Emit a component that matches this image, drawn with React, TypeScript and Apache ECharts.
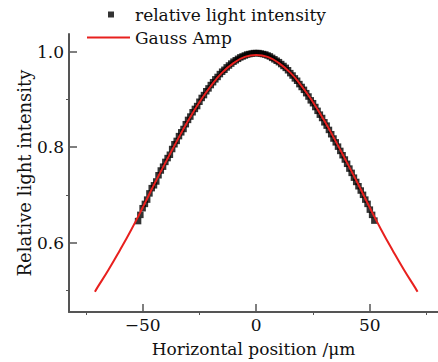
import React, { useEffect, useRef } from "react";
import * as echarts from "echarts";

const dataX: number[] = [
  -52, -51, -50, -49, -48, -47, -46, -45, -44, -43, -42, -41, -40, -39, -38, -37, -36, -35, -34, -33, -32, -31, -30, -29, -28, -27,
  -26, -25, -24, -23, -22, -21, -20, -19, -18, -17, -16, -15, -14, -13, -12, -11, -10, -9, -8, -7, -6, -5, -4, -3, -2, -1,
  0, 1, 2, 3, 4, 5, 6, 7, 8, 9, 10, 11, 12, 13, 14, 15, 16, 17, 18, 19, 20, 21, 22, 23, 24, 25, 26,
  27, 28, 29, 30, 31, 32, 33, 34, 35, 36, 37, 38, 39, 40, 41, 42, 43, 44, 45, 46, 47, 48, 49, 50, 51, 52,
];
const dataY: number[] = [
  0.645, 0.658, 0.672, 0.681, 0.69, 0.703, 0.714, 0.72, 0.728, 0.741, 0.751, 0.759, 0.769, 0.777, 0.784, 0.796, 0.806, 0.813,
  0.823, 0.831, 0.838, 0.848, 0.857, 0.864, 0.873, 0.88, 0.886, 0.895, 0.903, 0.909, 0.917, 0.923, 0.93, 0.936, 0.942, 0.947,
  0.953, 0.958, 0.962, 0.967, 0.971, 0.975, 0.979, 0.982, 0.985, 0.988, 0.99, 0.992, 0.994, 0.995, 0.996, 0.997,
  0.997, 0.997, 0.996, 0.995, 0.994, 0.992, 0.99, 0.987, 0.984, 0.981, 0.978, 0.974, 0.97, 0.966, 0.961, 0.955, 0.95, 0.944,
  0.939, 0.932, 0.926, 0.92, 0.913, 0.906, 0.898, 0.892, 0.884, 0.876, 0.868, 0.861, 0.852, 0.845, 0.836, 0.827, 0.818, 0.81,
  0.801, 0.792, 0.783, 0.774, 0.765, 0.755, 0.746, 0.736, 0.727, 0.718, 0.709, 0.7, 0.69, 0.681, 0.669, 0.658, 0.646,
];

const fitX: number[] = [-71, -70, -65, -60, -55, -50, -45, -40, -35, -30, -25, -20, -15, -10, -5, 0, 5, 10, 15, 20, 25, 30, 35, 40, 45, 50, 55, 60, 65, 70, 71];
const fitY: number[] = [
  0.497, 0.505, 0.543, 0.584, 0.627, 0.673, 0.721, 0.767, 0.812, 0.855, 0.894, 0.928, 0.956, 0.976, 0.989, 0.993, 0.989, 0.976,
  0.956, 0.928, 0.894, 0.855, 0.812, 0.767, 0.721, 0.673, 0.627, 0.584, 0.543, 0.505, 0.497,
];

const xMajor: number[] = [-50, 0, 50];
const xMinor: number[] = [-75, -25, 25, 75];
const yMajor: number[] = [0.6, 0.8, 1.0];
const yMinor: number[] = [0.5, 0.7, 0.9];

const SERIES_DATA = "relative light intensity";
const SERIES_FIT = "Gauss Amp";

const FONT = "DejaVu Serif";
const TXT = "#111";
const AXC = "#555";
const RED = "#e8201e";

export default function App() {
  const ref = useRef<HTMLDivElement>(null);
  useEffect(() => {
    if (!ref.current) return;
    const chart = echarts.init(ref.current, null, { renderer: "svg" });
    const xMin = -82.4;
    const xMax = 80;
    const yMin = 0.4545;
    const yMax = 1.037;
    chart.setOption({
      animation: false,
      backgroundColor: "#fff",
      textStyle: { fontFamily: FONT, color: TXT },
      grid: { left: 69, right: 0, top: 34, bottom: 50 },
      legend: [
        {
          data: [{ name: SERIES_DATA, icon: "rect" }],
          left: 108,
          top: 6,
          padding: 0,
          itemWidth: 6,
          itemHeight: 6,
          textStyle: { fontFamily: FONT, fontSize: 17, color: TXT, padding: [0, 0, 0, 16] },
        },
        {
          data: [{ name: SERIES_FIT, icon: "rect", itemStyle: { color: RED } }],
          left: 87,
          top: 29,
          padding: 0,
          itemWidth: 43,
          itemHeight: 2,
          textStyle: { fontFamily: FONT, fontSize: 17, color: TXT },
        },
      ],
      xAxis: [
        {
          type: "value",
          min: xMin,
          max: xMax,
          name: "Horizontal position /\u03bcm",
          nameLocation: "middle",
          nameGap: 28,
          nameTextStyle: { fontFamily: FONT, fontSize: 17, color: TXT },
          splitLine: { show: false },
          axisLine: { show: true, onZero: false, lineStyle: { color: AXC, width: 2 } },
          axisTick: { show: true, inside: true, length: 8, customValues: xMajor, lineStyle: { color: AXC, width: 1.5 } },
          axisLabel: { customValues: xMajor, fontFamily: FONT, fontSize: 17, color: TXT, margin: 4, formatter: (v: number) => (v < 0 ? "\u2212" + Math.abs(v) : String(v)) },
        },
        {
          type: "value",
          min: xMin,
          max: xMax,
          position: "bottom",
          axisLine: { show: false, onZero: false },
          splitLine: { show: false },
          axisTick: { show: true, inside: false, length: 3, customValues: xMinor, lineStyle: { color: AXC, width: 1 } },
          axisLabel: { show: false },
        },
      ],
      yAxis: [
        {
          type: "value",
          min: yMin,
          max: yMax,
          name: "Relative light intensity",
          nameLocation: "middle",
          nameGap: 36,
          nameMoveOverlap: false,
          nameTextStyle: { fontFamily: FONT, fontSize: 18, color: TXT },
          splitLine: { show: false },
          axisLine: { show: true, onZero: false, lineStyle: { color: AXC, width: 2 } },
          axisTick: { show: true, inside: true, length: 8, customValues: yMajor, lineStyle: { color: AXC, width: 1.5 } },
          axisLabel: { customValues: yMajor, fontFamily: FONT, fontSize: 17, color: TXT, margin: 5, formatter: (v: number) => v.toFixed(1) },
        },
        {
          type: "value",
          min: yMin,
          max: yMax,
          position: "left",
          axisLine: { show: false, onZero: false },
          splitLine: { show: false },
          axisTick: { show: true, inside: false, length: 3, customValues: yMinor, lineStyle: { color: AXC, width: 1 } },
          axisLabel: { show: false },
        },
      ],
      series: [
        {
          name: SERIES_DATA,
          type: "scatter",
          symbol: "rect",
          symbolSize: 6.5,
          itemStyle: { color: "#000" },
          data: dataX.map((x, i) => [x, dataY[i]]),
        },
        {
          name: SERIES_FIT,
          type: "line",
          smooth: true,
          symbol: "none",
          lineStyle: { color: RED, width: 2 },
          itemStyle: { color: RED },
          data: fitX.map((x, i) => [x, fitY[i]]),
        },
      ],
    });
    return () => chart.dispose();
  }, []);
  return <div ref={ref} style={{ width: 438, height: 362, position: "absolute", left: 0, top: 0 }} />;
}
